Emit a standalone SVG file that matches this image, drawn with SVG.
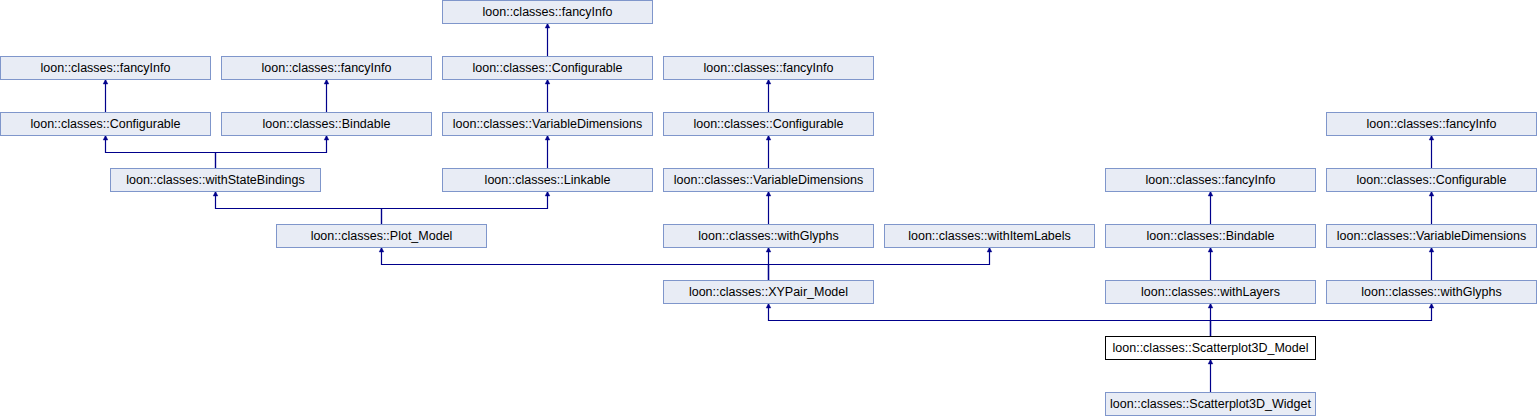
<svg xmlns="http://www.w3.org/2000/svg" width="1537" height="416" viewBox="0 0 1537 416">
<style>
.n rect{fill:#E8ECF5;stroke:#7F96CB;stroke-width:1}
.n.main rect{fill:#FFFFFF;stroke:#000000}
.n text{font-family:"Liberation Sans",Arial,sans-serif;font-size:12.5px;fill:#000000;text-anchor:middle}
.e path{fill:none;stroke:#00008B;stroke-width:1.2;marker-end:url(#ah)}
</style>
<defs>
<marker id="ah" markerUnits="userSpaceOnUse" markerWidth="7" markerHeight="7" viewBox="-1 -4 7 8" refX="5" refY="0" orient="auto">
<path d="M0,-2.6 L5,0 L0,2.6 z" fill="#00008B" stroke="#00008B" stroke-width="0.6"/>
</marker>
</defs>
<g id="edges" class="e">
<path d="M547.5,56.5 V23.5"/>
<path d="M105.5,112.5 V79.5"/>
<path d="M326.5,112.5 V79.5"/>
<path d="M547.5,112.5 V79.5"/>
<path d="M768.5,112.5 V79.5"/>
<path d="M215.5,168.5 V152.5 H105.5 V135.5"/>
<path d="M215.5,168.5 V152.5 H326.5 V135.5"/>
<path d="M547.5,168.5 V135.5"/>
<path d="M768.5,168.5 V135.5"/>
<path d="M1431.5,168.5 V135.5"/>
<path d="M381.5,224.5 V208.5 H215.5 V191.5"/>
<path d="M381.5,224.5 V208.5 H547.5 V191.5"/>
<path d="M768.5,224.5 V191.5"/>
<path d="M1210.5,224.5 V191.5"/>
<path d="M1431.5,224.5 V191.5"/>
<path d="M768.5,280.5 V264.5 H381.5 V247.5"/>
<path d="M768.5,280.5 V247.5"/>
<path d="M768.5,280.5 V264.5 H989.5 V247.5"/>
<path d="M1210.5,280.5 V247.5"/>
<path d="M1431.5,280.5 V247.5"/>
<path d="M1210.5,336.5 V320.5 H768.5 V303.5"/>
<path d="M1210.5,336.5 V303.5"/>
<path d="M1210.5,336.5 V320.5 H1431.5 V303.5"/>
<path d="M1210.5,392.5 V359.5"/>
</g>
<g id="n1" class="n"><rect x="442.5" y="0.5" width="210" height="23"/><text x="547.5" y="16">loon::classes::fancyInfo</text></g>
<g id="n2" class="n"><rect x="0.5" y="56.5" width="210" height="23"/><text x="105.5" y="72">loon::classes::fancyInfo</text></g>
<g id="n3" class="n"><rect x="221.5" y="56.5" width="210" height="23"/><text x="326.5" y="72">loon::classes::fancyInfo</text></g>
<g id="n4" class="n"><rect x="442.5" y="56.5" width="210" height="23"/><text x="547.5" y="72">loon::classes::Configurable</text></g>
<g id="n5" class="n"><rect x="663.5" y="56.5" width="210" height="23"/><text x="768.5" y="72">loon::classes::fancyInfo</text></g>
<g id="n6" class="n"><rect x="0.5" y="112.5" width="210" height="23"/><text x="105.5" y="128">loon::classes::Configurable</text></g>
<g id="n7" class="n"><rect x="221.5" y="112.5" width="210" height="23"/><text x="326.5" y="128">loon::classes::Bindable</text></g>
<g id="n8" class="n"><rect x="442.5" y="112.5" width="210" height="23"/><text x="547.5" y="128">loon::classes::VariableDimensions</text></g>
<g id="n9" class="n"><rect x="663.5" y="112.5" width="210" height="23"/><text x="768.5" y="128">loon::classes::Configurable</text></g>
<g id="n10" class="n"><rect x="1326.5" y="112.5" width="210" height="23"/><text x="1431.5" y="128">loon::classes::fancyInfo</text></g>
<g id="n11" class="n"><rect x="110.5" y="168.5" width="210" height="23"/><text x="215.5" y="184">loon::classes::withStateBindings</text></g>
<g id="n12" class="n"><rect x="442.5" y="168.5" width="210" height="23"/><text x="547.5" y="184">loon::classes::Linkable</text></g>
<g id="n13" class="n"><rect x="663.5" y="168.5" width="210" height="23"/><text x="768.5" y="184">loon::classes::VariableDimensions</text></g>
<g id="n14" class="n"><rect x="1105.5" y="168.5" width="210" height="23"/><text x="1210.5" y="184">loon::classes::fancyInfo</text></g>
<g id="n15" class="n"><rect x="1326.5" y="168.5" width="210" height="23"/><text x="1431.5" y="184">loon::classes::Configurable</text></g>
<g id="n16" class="n"><rect x="276.5" y="224.5" width="210" height="23"/><text x="381.5" y="240">loon::classes::Plot_Model</text></g>
<g id="n17" class="n"><rect x="663.5" y="224.5" width="210" height="23"/><text x="768.5" y="240">loon::classes::withGlyphs</text></g>
<g id="n18" class="n"><rect x="884.5" y="224.5" width="210" height="23"/><text x="989.5" y="240">loon::classes::withItemLabels</text></g>
<g id="n19" class="n"><rect x="1105.5" y="224.5" width="210" height="23"/><text x="1210.5" y="240">loon::classes::Bindable</text></g>
<g id="n20" class="n"><rect x="1326.5" y="224.5" width="210" height="23"/><text x="1431.5" y="240">loon::classes::VariableDimensions</text></g>
<g id="n21" class="n"><rect x="663.5" y="280.5" width="210" height="23"/><text x="768.5" y="296">loon::classes::XYPair_Model</text></g>
<g id="n22" class="n"><rect x="1105.5" y="280.5" width="210" height="23"/><text x="1210.5" y="296">loon::classes::withLayers</text></g>
<g id="n23" class="n"><rect x="1326.5" y="280.5" width="210" height="23"/><text x="1431.5" y="296">loon::classes::withGlyphs</text></g>
<g id="n24" class="n main"><rect x="1105.5" y="336.5" width="210" height="23"/><text x="1210.5" y="352">loon::classes::Scatterplot3D_Model</text></g>
<g id="n25" class="n"><rect x="1105.5" y="392.5" width="210" height="23"/><text x="1210.5" y="408">loon::classes::Scatterplot3D_Widget</text></g>
</svg>
